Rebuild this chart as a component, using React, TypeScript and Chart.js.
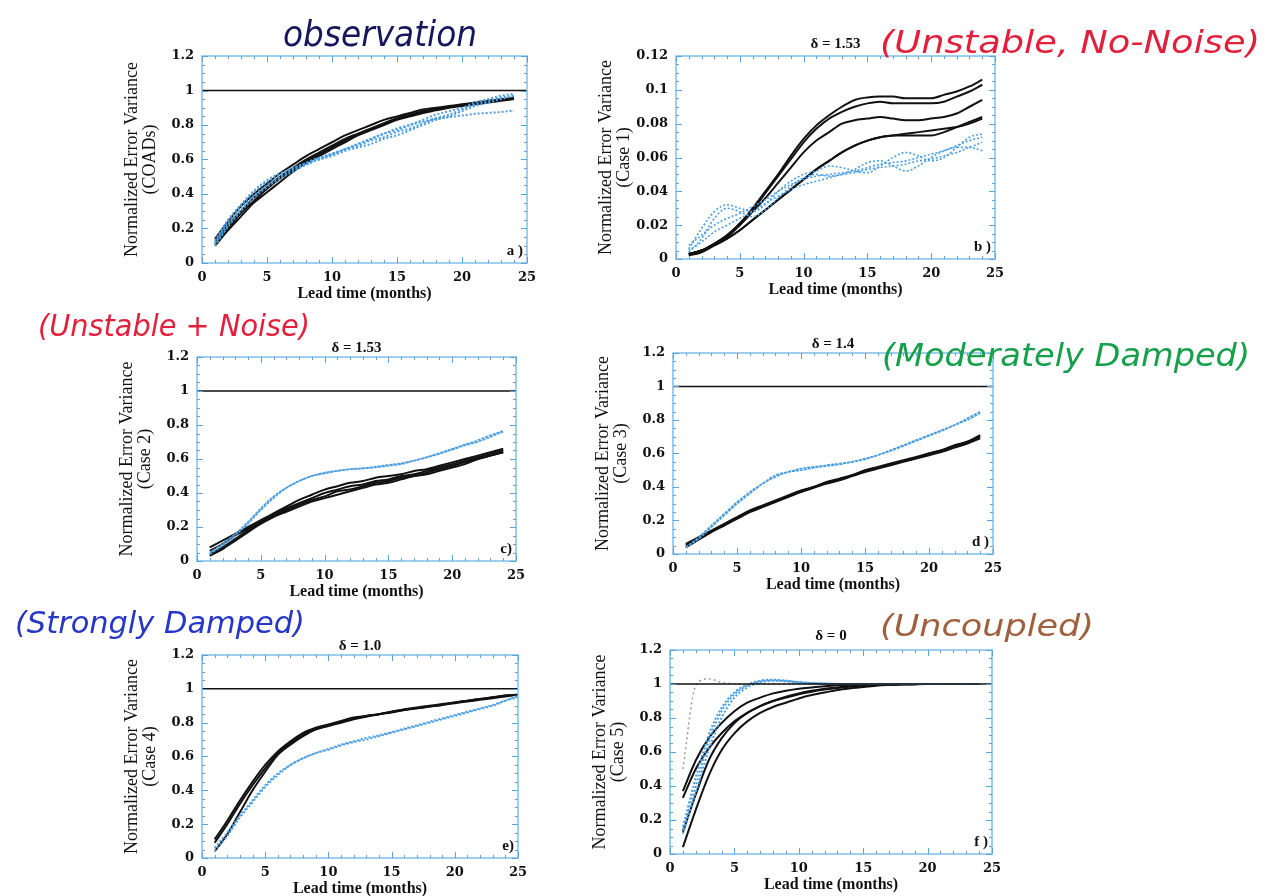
import React, { useEffect, useRef } from "react";
import { Chart, registerables } from "chart.js";
Chart.register(...registerables);

// ---------- data ----------
const months = [1, 2, 3, 4, 5, 6, 7, 8, 9, 10, 11, 12, 13, 14, 15, 16, 17, 18, 19, 20, 21, 22, 23, 24];
const monthsE = [1, 2, 3, 4, 5, 6, 7, 8, 9, 10, 11, 12, 13, 14, 15, 16, 17, 18, 19, 20, 21, 22, 23, 24, 25];
const refX = [0, 25];
const refY = [1, 1];

// panel a (COADs)
const aBlack1 = [0.14, 0.24, 0.33, 0.4, 0.46, 0.52, 0.57, 0.62, 0.66, 0.7, 0.74, 0.77, 0.8, 0.83, 0.85, 0.87, 0.89, 0.9, 0.91, 0.92, 0.93, 0.94, 0.95, 0.955];
const aBlack2 = [0.12, 0.22, 0.3, 0.38, 0.44, 0.5, 0.55, 0.6, 0.64, 0.68, 0.72, 0.75, 0.78, 0.81, 0.84, 0.86, 0.88, 0.895, 0.905, 0.915, 0.925, 0.935, 0.945, 0.955];
const aBlack3 = [0.1, 0.19, 0.27, 0.35, 0.41, 0.47, 0.53, 0.58, 0.62, 0.66, 0.7, 0.74, 0.77, 0.8, 0.83, 0.85, 0.87, 0.885, 0.9, 0.91, 0.92, 0.93, 0.94, 0.95];
const aBlack4 = [0.11, 0.2, 0.29, 0.36, 0.43, 0.49, 0.54, 0.59, 0.63, 0.67, 0.71, 0.745, 0.775, 0.805, 0.835, 0.855, 0.875, 0.89, 0.905, 0.915, 0.925, 0.935, 0.945, 0.955];
const aBlue1 = [0.13, 0.25, 0.34, 0.42, 0.48, 0.52, 0.55, 0.58, 0.61, 0.63, 0.66, 0.68, 0.71, 0.73, 0.76, 0.78, 0.81, 0.84, 0.86, 0.89, 0.92, 0.94, 0.96, 0.97];
const aBlue2 = [0.11, 0.22, 0.31, 0.39, 0.45, 0.5, 0.54, 0.57, 0.6, 0.62, 0.65, 0.67, 0.69, 0.72, 0.74, 0.77, 0.8, 0.83, 0.85, 0.88, 0.91, 0.93, 0.95, 0.97];
const aBlue3 = [0.12, 0.24, 0.33, 0.41, 0.47, 0.51, 0.55, 0.58, 0.61, 0.635, 0.66, 0.69, 0.72, 0.75, 0.77, 0.8, 0.83, 0.86, 0.88, 0.9, 0.93, 0.95, 0.97, 0.98];
const aBlue4 = [0.1, 0.21, 0.3, 0.38, 0.44, 0.49, 0.53, 0.57, 0.6, 0.63, 0.66, 0.69, 0.72, 0.75, 0.78, 0.8, 0.82, 0.835, 0.845, 0.855, 0.865, 0.87, 0.875, 0.885];

// panel b (Case 1)
const bBlack1 = [0.003, 0.005, 0.009, 0.014, 0.021, 0.03, 0.04, 0.05, 0.061, 0.071, 0.079, 0.085, 0.09, 0.094, 0.0955, 0.096, 0.096, 0.095, 0.095, 0.095, 0.097, 0.099, 0.102, 0.106];
const bBlack2 = [0.003, 0.005, 0.009, 0.014, 0.021, 0.029, 0.039, 0.049, 0.059, 0.069, 0.077, 0.083, 0.087, 0.09, 0.092, 0.093, 0.092, 0.092, 0.092, 0.092, 0.093, 0.096, 0.099, 0.103];
const bBlack3 = [0.003, 0.005, 0.009, 0.013, 0.02, 0.028, 0.036, 0.045, 0.054, 0.063, 0.07, 0.075, 0.08, 0.082, 0.083, 0.084, 0.083, 0.082, 0.082, 0.083, 0.084, 0.086, 0.09, 0.094];
const bBlack4 = [0.002, 0.004, 0.008, 0.012, 0.017, 0.023, 0.029, 0.035, 0.041, 0.047, 0.053, 0.058, 0.063, 0.067, 0.07, 0.072, 0.073, 0.074, 0.075, 0.076, 0.077, 0.078, 0.08, 0.083];
const bBlack5 = [0.003, 0.005, 0.008, 0.012, 0.017, 0.023, 0.029, 0.035, 0.041, 0.047, 0.053, 0.058, 0.063, 0.067, 0.07, 0.072, 0.073, 0.073, 0.073, 0.073, 0.075, 0.078, 0.081, 0.084];
const bBlue1 = [0.006, 0.018, 0.028, 0.032, 0.03, 0.028, 0.032, 0.04, 0.046, 0.05, 0.052, 0.055, 0.054, 0.052, 0.051, 0.055, 0.06, 0.063, 0.061, 0.058, 0.06, 0.066, 0.072, 0.074];
const bBlue2 = [0.004, 0.012, 0.024, 0.03, 0.028, 0.025, 0.029, 0.036, 0.043, 0.048, 0.05, 0.049, 0.05, 0.053, 0.057, 0.058, 0.055, 0.052, 0.055, 0.06, 0.064, 0.066, 0.066, 0.064];
const bBlue3 = [0.005, 0.01, 0.016, 0.02, 0.024, 0.028, 0.033, 0.037, 0.041, 0.044, 0.046, 0.048, 0.05, 0.051, 0.053, 0.054, 0.055, 0.056, 0.058, 0.059, 0.061, 0.063, 0.066, 0.069];
const bBlue4 = [0.008, 0.014, 0.02, 0.024, 0.027, 0.031, 0.035, 0.04, 0.044, 0.047, 0.049, 0.05, 0.051, 0.052, 0.054, 0.056, 0.057, 0.058, 0.06, 0.062, 0.064, 0.067, 0.07, 0.072];

// panel c (Case 2)
const cBlack1 = [0.08, 0.12, 0.16, 0.2, 0.24, 0.28, 0.32, 0.36, 0.39, 0.42, 0.44, 0.46, 0.47, 0.49, 0.5, 0.51, 0.53, 0.54, 0.56, 0.58, 0.6, 0.62, 0.64, 0.66];
const cBlack2 = [0.06, 0.1, 0.15, 0.19, 0.23, 0.27, 0.31, 0.34, 0.37, 0.4, 0.42, 0.44, 0.45, 0.47, 0.48, 0.5, 0.51, 0.53, 0.55, 0.57, 0.59, 0.61, 0.63, 0.65];
const cBlack3 = [0.04, 0.08, 0.13, 0.18, 0.22, 0.26, 0.3, 0.33, 0.36, 0.38, 0.41, 0.42, 0.44, 0.46, 0.47, 0.49, 0.5, 0.52, 0.54, 0.56, 0.58, 0.6, 0.62, 0.64];
const cBlack4 = [0.03, 0.07, 0.12, 0.17, 0.22, 0.26, 0.29, 0.32, 0.35, 0.37, 0.39, 0.41, 0.43, 0.45, 0.46, 0.48, 0.5, 0.51, 0.53, 0.55, 0.57, 0.6, 0.62, 0.64];
const cBlue1 = [0.05, 0.1, 0.16, 0.23, 0.31, 0.38, 0.43, 0.47, 0.5, 0.52, 0.53, 0.54, 0.545, 0.55, 0.56, 0.57, 0.59, 0.61, 0.63, 0.655, 0.68, 0.7, 0.73, 0.76];
const cBlue2 = [0.04, 0.09, 0.15, 0.22, 0.3, 0.37, 0.43, 0.47, 0.5, 0.515, 0.53, 0.54, 0.545, 0.555, 0.565, 0.575, 0.59, 0.61, 0.635, 0.66, 0.685, 0.71, 0.74, 0.765];

// panel d (Case 3)
const dBlack1 = [0.06, 0.1, 0.14, 0.18, 0.22, 0.26, 0.29, 0.32, 0.35, 0.38, 0.4, 0.43, 0.45, 0.47, 0.5, 0.52, 0.54, 0.56, 0.58, 0.6, 0.62, 0.65, 0.67, 0.71];
const dBlack2 = [0.05, 0.09, 0.135, 0.175, 0.215, 0.255, 0.285, 0.315, 0.345, 0.375, 0.4, 0.425, 0.445, 0.47, 0.495, 0.515, 0.535, 0.555, 0.575, 0.6, 0.62, 0.645, 0.67, 0.7];
const dBlack3 = [0.04, 0.085, 0.13, 0.17, 0.21, 0.25, 0.28, 0.31, 0.34, 0.37, 0.395, 0.42, 0.44, 0.465, 0.49, 0.51, 0.53, 0.55, 0.57, 0.59, 0.61, 0.635, 0.66, 0.69];
const dBlue1 = [0.04, 0.1, 0.17, 0.24, 0.31, 0.37, 0.42, 0.47, 0.49, 0.51, 0.52, 0.53, 0.54, 0.55, 0.57, 0.59, 0.62, 0.65, 0.68, 0.71, 0.74, 0.77, 0.81, 0.85];
const dBlue2 = [0.04, 0.09, 0.16, 0.23, 0.3, 0.36, 0.42, 0.46, 0.49, 0.5, 0.515, 0.525, 0.535, 0.55, 0.565, 0.59, 0.615, 0.645, 0.675, 0.705, 0.735, 0.77, 0.8, 0.84];

// panel e (Case 4)
const eBlack1 = [0.11, 0.22, 0.34, 0.45, 0.55, 0.63, 0.69, 0.74, 0.77, 0.79, 0.81, 0.83, 0.84, 0.85, 0.865, 0.88, 0.89, 0.9, 0.91, 0.92, 0.93, 0.94, 0.95, 0.96, 0.965];
const eBlack2 = [0.09, 0.2, 0.32, 0.43, 0.53, 0.62, 0.68, 0.73, 0.76, 0.785, 0.805, 0.825, 0.84, 0.85, 0.865, 0.875, 0.885, 0.895, 0.905, 0.92, 0.93, 0.94, 0.95, 0.96, 0.965];
const eBlack3 = [0.04, 0.14, 0.27, 0.4, 0.51, 0.61, 0.67, 0.72, 0.76, 0.78, 0.8, 0.82, 0.835, 0.85, 0.86, 0.875, 0.885, 0.895, 0.905, 0.915, 0.925, 0.935, 0.945, 0.955, 0.965];
const eBlue1 = [0.04, 0.13, 0.24, 0.33, 0.42, 0.49, 0.55, 0.59, 0.62, 0.64, 0.665, 0.685, 0.7, 0.72, 0.74, 0.76, 0.78, 0.8, 0.82, 0.84, 0.86, 0.88, 0.9, 0.93, 0.95];
const eBlue2 = [0.06, 0.15, 0.25, 0.34, 0.43, 0.5, 0.55, 0.59, 0.62, 0.645, 0.67, 0.69, 0.71, 0.725, 0.745, 0.765, 0.785, 0.805, 0.825, 0.845, 0.865, 0.885, 0.905, 0.93, 0.96];

// panel f (Case 5)
const fBlack1 = [0.37, 0.55, 0.68, 0.77, 0.84, 0.89, 0.92, 0.945, 0.96, 0.972, 0.98, 0.987, 0.992, 0.995, 0.997, 0.998, 0.999, 1, 1, 1, 1, 1, 1, 1];
const fBlack2 = [0.33, 0.5, 0.62, 0.71, 0.78, 0.83, 0.87, 0.9, 0.925, 0.945, 0.96, 0.972, 0.98, 0.987, 0.992, 0.995, 0.997, 0.998, 0.999, 1, 1, 1, 1, 1];
const fBlack3 = [0.13, 0.35, 0.55, 0.68, 0.77, 0.83, 0.87, 0.9, 0.92, 0.94, 0.955, 0.967, 0.977, 0.985, 0.99, 0.994, 0.996, 0.998, 0.999, 1, 1, 1, 1, 1];
const fBlack4 = [0.04, 0.26, 0.46, 0.61, 0.71, 0.78, 0.83, 0.865, 0.89, 0.915, 0.935, 0.95, 0.965, 0.975, 0.983, 0.99, 0.994, 0.997, 0.999, 1, 1, 1, 1, 1];
const fBlue1 = [0.14, 0.4, 0.66, 0.84, 0.94, 0.99, 1.015, 1.02, 1.018, 1.012, 1.006, 1.003, 1.001, 1, 1, 1, 1, 1, 1, 1, 1, 1, 1, 1];
const fBlue2 = [0.16, 0.45, 0.7, 0.86, 0.95, 0.995, 1.02, 1.025, 1.02, 1.01, 1.005, 1.002, 1, 1, 1, 1, 1, 1, 1, 1, 1, 1, 1, 1];
const fBlue3 = [0.12, 0.36, 0.61, 0.8, 0.92, 0.98, 1.01, 1.02, 1.015, 1.008, 1.003, 1.001, 1, 1, 1, 1, 1, 1, 1, 1, 1, 1, 1, 1];
const fGrey1 = [0.5, 0.99, 1.03, 1.01, 1.0, 0.995, 1, 1, 1, 1, 1, 1, 1, 1, 1, 1, 1, 1, 1, 1, 1, 1, 1, 1];

// ---------- styling ----------
const LY = 79;
const RP = 14;
const TP = 30;
const HX = 40;
const FRAME = "#80c0ec";
const TICKC = "#5aa2da";
const BLUE = "#4c9fe2";
const BLACK = "#111111";
const SERIF = '"Liberation Serif", "Times New Roman", serif';
const TICKSERIF = '"DejaVu Serif", "Liberation Serif", serif';

const pts = (xs: number[], ys: number[]) => ys.map((y, i) => ({ x: xs[i], y }));

const framePlugin = {
  id: "frame",
  afterDraw(chart: any, _args: any, opts: any) {
    const { ctx, chartArea: a, scales } = chart;
    const x = scales.x;
    const y = scales.y;
    ctx.save();
    ctx.strokeStyle = FRAME;
    ctx.lineWidth = 1.5;
    ctx.strokeRect(a.left, a.top, a.right - a.left, a.bottom - a.top);
    ctx.strokeStyle = TICKC;
    ctx.lineWidth = 1;
    ctx.beginPath();
    for (let v = 0; v <= 25; v++) {
      const px = Math.round(x.getPixelForValue(v)) + 0.5;
      const len = v % 5 === 0 ? 6 : 3;
      ctx.moveTo(px, a.bottom);
      ctx.lineTo(px, a.bottom - len);
      ctx.moveTo(px, a.top);
      ctx.lineTo(px, a.top + len);
    }
    const n = Math.round(opts.yMax / opts.yMinor);
    for (let i = 0; i <= n; i++) {
      const py = Math.round(y.getPixelForValue(i * opts.yMinor)) + 0.5;
      const len = i % 4 === 0 ? 6 : 3;
      ctx.moveTo(a.left, py);
      ctx.lineTo(a.left + len, py);
      ctx.moveTo(a.right, py);
      ctx.lineTo(a.right - len, py);
    }
    ctx.stroke();
    ctx.fillStyle = "#111";
    ctx.font = `bold 15px ${SERIF}`;
    ctx.textBaseline = "alphabetic";
    if (opts.title) {
      ctx.textAlign = "center";
      ctx.fillText(opts.title, (a.left + a.right) / 2, a.top - opts.titleGap);
    }
    ctx.textAlign = "right";
    ctx.fillText(opts.letter, a.right - 4, a.bottom - 8);
    ctx.restore();
  },
};

type Spec = {
  pL: number; pR: number; pT: number; pB: number;
  yMax: number; yStep: number; yMinor: number;
  label2: string; title: string; titleGap: number; letter: string;
  xs: number[]; black: number[][]; blue: number[][]; grey?: number[][];
  ref: boolean; blueDash: number[]; blueWidth: number;
};

const specs: Spec[] = [
  { pL: 202, pR: 527, pT: 56, pB: 263, yMax: 1.2, yStep: 0.2, yMinor: 0.05, label2: "(COADs)", title: "", titleGap: 6, letter: "a )",
    xs: months, black: [aBlack1, aBlack2, aBlack3, aBlack4], blue: [aBlue1, aBlue2, aBlue3, aBlue4], ref: true, blueDash: [2, 2], blueWidth: 2 },
  { pL: 676, pR: 995, pT: 56, pB: 259, yMax: 0.12, yStep: 0.02, yMinor: 0.005, label2: "(Case 1)", title: "δ = 1.53", titleGap: 8, letter: "b )",
    xs: months, black: [bBlack1, bBlack2, bBlack3, bBlack4, bBlack5], blue: [bBlue1, bBlue2, bBlue3, bBlue4], ref: false, blueDash: [2, 2], blueWidth: 1.6 },
  { pL: 197, pR: 516, pT: 357, pB: 561, yMax: 1.2, yStep: 0.2, yMinor: 0.05, label2: "(Case 2)", title: "δ = 1.53", titleGap: 5, letter: "c)",
    xs: months, black: [cBlack1, cBlack2, cBlack3, cBlack4], blue: [cBlue1, cBlue2], ref: true, blueDash: [3, 1], blueWidth: 1.6 },
  { pL: 673, pR: 993, pT: 353, pB: 554, yMax: 1.2, yStep: 0.2, yMinor: 0.05, label2: "(Case 3)", title: "δ = 1.4", titleGap: 5, letter: "d )",
    xs: months, black: [dBlack1, dBlack2, dBlack3], blue: [dBlue1, dBlue2], ref: true, blueDash: [3, 1], blueWidth: 1.6 },
  { pL: 202, pR: 518, pT: 655, pB: 858, yMax: 1.2, yStep: 0.2, yMinor: 0.05, label2: "(Case 4)", title: "δ = 1.0", titleGap: 5, letter: "e)",
    xs: monthsE, black: [eBlack1, eBlack2, eBlack3], blue: [eBlue1, eBlue2], ref: true, blueDash: [2, 2], blueWidth: 2 },
  { pL: 670, pR: 992, pT: 650, pB: 854, yMax: 1.2, yStep: 0.2, yMinor: 0.05, label2: "(Case 5)", title: "δ = 0", titleGap: 10, letter: "f )",
    xs: months, black: [fBlack1, fBlack2, fBlack3, fBlack4], blue: [fBlue1, fBlue2, fBlue3], grey: [fGrey1], ref: true, blueDash: [2, 2], blueWidth: 2 },
];

function Panel({ spec }: { spec: Spec }) {
  const ref = useRef<HTMLCanvasElement>(null);
  const W = LY + (spec.pR - spec.pL) + RP;
  const H = TP + (spec.pB - spec.pT) + HX;
  useEffect(() => {
    const datasets: any[] = [];
    if (spec.ref) {
      datasets.push({ data: pts(refX, refY), borderColor: BLACK, borderWidth: 1.5, pointRadius: 0 });
    }
    (spec.grey || []).forEach((g) =>
      datasets.push({ data: pts(spec.xs, g), borderColor: "#9a9a9a", borderWidth: 1.5, borderDash: [2, 3], pointRadius: 0, cubicInterpolationMode: "monotone" })
    );
    spec.blue.forEach((b) =>
      datasets.push({ data: pts(spec.xs, b), borderColor: BLUE, borderWidth: spec.blueWidth, borderDash: spec.blueDash, pointRadius: 0, cubicInterpolationMode: "monotone" })
    );
    spec.black.forEach((b) =>
      datasets.push({ data: pts(spec.xs, b), borderColor: BLACK, borderWidth: 2, pointRadius: 0, cubicInterpolationMode: "monotone" })
    );
    const chart = new Chart(ref.current as HTMLCanvasElement, {
      type: "line",
      data: { datasets },
      plugins: [framePlugin],
      options: {
        animation: false,
        responsive: false,
        devicePixelRatio: 1,
        layout: { padding: { top: TP, right: RP, left: 0, bottom: 0 } },
        plugins: {
          legend: { display: false },
          tooltip: { enabled: false },
          title: { display: false },
          frame: { yMax: spec.yMax, yMinor: spec.yMinor, title: spec.title, titleGap: spec.titleGap, letter: spec.letter },
        } as any,
        scales: {
          x: {
            type: "linear",
            min: 0,
            max: 25,
            grid: { display: false, drawTicks: false },
            border: { display: false },
            ticks: { stepSize: 5, padding: 7, color: "#111", font: { family: TICKSERIF, size: 13, weight: "bold" }, maxRotation: 0 },
            title: { display: true, text: "Lead time (months)", color: "#111", padding: 0, font: { family: SERIF, size: 16, weight: "bold" } },
            afterFit: (s: any) => { s.height = HX; s.paddingLeft = 0; s.paddingRight = 0; },
          },
          y: {
            type: "linear",
            min: 0,
            max: spec.yMax,
            grid: { display: false, drawTicks: false },
            border: { display: false },
            ticks: {
              stepSize: spec.yStep,
              padding: 8,
              color: "#111",
              font: { family: TICKSERIF, size: 13, weight: "bold" },
              callback: (v: any) => String(Number(Number(v).toFixed(4))),
            },
            title: { display: true, text: ["Normalized Error Variance", spec.label2], color: "#111", padding: 0, font: { family: SERIF, size: 18, lineHeight: 1.0 } },
            afterFit: (s: any) => { s.width = LY; s.paddingTop = 0; s.paddingBottom = 0; },
          },
        } as any,
      },
    });
    return () => chart.destroy();
  }, []);
  return (
    <canvas
      ref={ref}
      width={W}
      height={H}
      style={{ position: "absolute", left: spec.pL - LY, top: spec.pT - TP, width: W, height: H }}
    />
  );
}

const notes = [
  { text: "observation", x: 283, y: 46, len: 194, size: 36, color: "#16165e" },
  { text: "(Unstable, No-Noise)", x: 880, y: 53, len: 380, size: 32, color: "#e2203c" },
  { text: "(Unstable + Noise)", x: 38, y: 336, len: 272, size: 30, color: "#e2203c" },
  { text: "(Moderately Damped)", x: 882, y: 366, len: 368, size: 32, color: "#17a04c" },
  { text: "(Strongly Damped)", x: 15, y: 633, len: 290, size: 30, color: "#2636c6" },
  { text: "(Uncoupled)", x: 880, y: 636, len: 214, size: 30, color: "#a0603e" },
];

export default function App() {
  return (
    <div style={{ position: "absolute", left: 0, top: 0, width: 1266, height: 896, overflow: "hidden", background: "#fff" }}>
      {specs.map((s, i) => (
        <Panel key={i} spec={s} />
      ))}
      <svg width={1266} height={896} style={{ position: "absolute", left: 0, top: 0, pointerEvents: "none" }}>
        {notes.map((n, i) => (
          <text
            key={i}
            x={n.x}
            y={n.y}
            textLength={n.len}
            lengthAdjust="spacingAndGlyphs"
            fill={n.color}
            fontSize={n.size}
            fontStyle="italic"
            fontFamily='"DejaVu Sans", sans-serif'
          >
            {n.text}
          </text>
        ))}
      </svg>
    </div>
  );
}
